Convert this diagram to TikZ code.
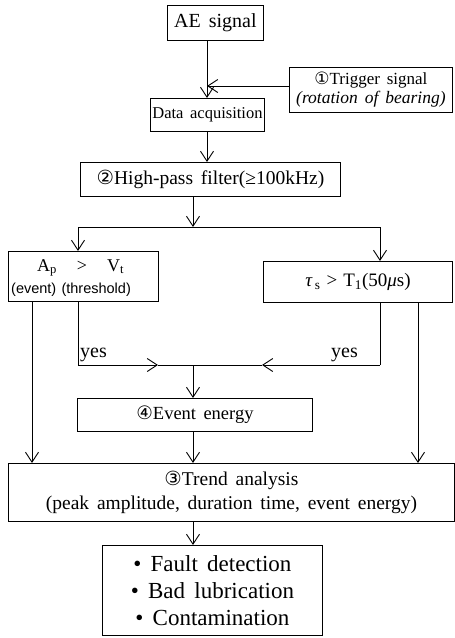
\documentclass[tikz,border=0pt]{standalone}
\usepackage{fontspec}
\setmainfont[WordSpace=1.6]{Liberation Serif}
\newfontfamily\symf{DejaVu Sans}
\newfontfamily\sansf[WordSpace=1.3]{Liberation Sans}
\usetikzlibrary{arrows.meta}
\newcommand{\cn}[1]{{\symf #1}}
\begin{document}
\begin{tikzpicture}[x=1pt,y=-1pt,
  ln/.style={line width=0.9pt},
  box/.style={draw, line width=0.9pt, rectangle, inner sep=0pt, anchor=north west, align=center},
  arr/.style={ln, -{Straight Barb[length=10pt,width=13pt,line width=0.9pt]}},
  txt/.style={inner sep=0pt, align=center},
  f/.style={font=\fontsize{#1}{#1}\selectfont}
]
\useasboundingbox (0,0) rectangle (455,638);
\fill[white] (0,0) rectangle (455,638);

% boxes
\node[box, minimum width=96pt, minimum height=35pt, f=20] (ae) at (167,5) {AE signal};
\node[box, minimum width=163pt, minimum height=45pt] (trig) at (289,67)
  {{\fontsize{17}{17}\selectfont\cn{①}Trigger signal}\\[2pt]{\fontsize{17.5}{17.5}\selectfont\itshape (rotation of bearing)}};
\node[box, minimum width=114pt, minimum height=33pt, f=16.5] (daq) at (150,98) {Data acquisition};
\node[box, minimum width=260pt, minimum height=34pt, f=19.5] (hpf) at (80,162)
  {\cn{②}High-pass filter(≥100kHz)};
\node[box, minimum width=150pt, minimum height=50pt] (lbox) at (8,251) {};
\node[txt, f=18, anchor=west] (lt1) at (37,268) {A\textsubscript{p}\hspace{20pt}>\hspace{20pt}V\textsubscript{t}};
\node[txt, anchor=west] (lt2) at (11,290) {\sansf\fontsize{14.5}{14.5}\selectfont (event) (threshold)};
\node[box, minimum width=189pt, minimum height=41pt, f=19] (rbox) at (263,261)
  {\textit{τ}\textsubscript{\,s}\hspace{6pt}>\hspace{6pt}T\textsubscript{1}(50\textit{μ}s)};
\node[box, minimum width=235pt, minimum height=33pt, f=18.5] (ev) at (77,398) {\cn{④}Event energy};
\node[box, minimum width=446pt, minimum height=58pt, f=19.5] (trend) at (8,463)
  {\cn{③}Trend analysis\\[4pt](peak amplitude, duration time, event energy)};
\node[box, minimum width=220pt, minimum height=90pt, f=23] (res) at (102,545)
  {• Fault detection\\[4pt]• Bad lubrication\\[4pt]• Contamination};

% axes
\coordinate (ax1) at (207,0);
\coordinate (ax2) at (193,0);
\coordinate (j) at (207,86);
\coordinate (sp) at (193,227);
\coordinate (spL) at (78,227);
\coordinate (spR) at (380,227);
\coordinate (L1) at (32,0);
\coordinate (R2) at (418,0);
\coordinate (yL) at (78,365);
\coordinate (yLm) at (158,365);
\coordinate (yC) at (193,365);
\coordinate (yRm) at (262,365);
\coordinate (yR) at (380,365);

% connectors
\draw[arr] (ae.south -| ax1) -- (daq.north -| ax1);
\draw[arr] (trig.west |- j) -- (j);
\draw[arr] (daq.south -| ax1) -- (hpf.north -| ax1);
\draw[arr] (hpf.south -| ax2) -- (sp);
\draw[ln] (spL) -- (spR);
\draw[arr] (spL) -- (lbox.north -| spL);
\draw[arr] (spR) -- (rbox.north -| spR);
\draw[arr] (lbox.south -| L1) -- (trend.north -| L1);
\draw[ln] (lbox.south -| yL) -- (yL);
\draw[arr] (yL) -- (yLm);
\draw[ln] (yLm) -- (yC);
\draw[ln] (rbox.south -| yR) -- (yR);
\draw[arr] (yR) -- (yRm);
\draw[ln] (yRm) -- (yC);
\draw[arr] (rbox.south -| R2) -- (trend.north -| R2);
\draw[arr] (yC) -- (ev.north -| yC);
\draw[arr] (ev.south -| yC) -- (trend.north -| yC);
\draw[arr] (trend.south -| yC) -- (res.north -| yC);

\node[txt, f=20, anchor=south west] (yes1) at (80,362) {yes};
\node[txt, f=20, anchor=south east] (yes2) at (358,362) {yes};
\end{tikzpicture}
\end{document}
